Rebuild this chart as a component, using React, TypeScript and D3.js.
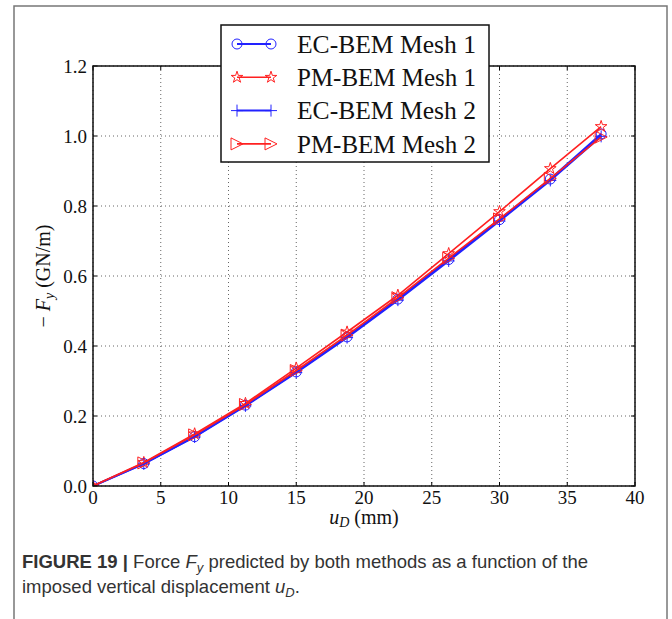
import React from "react";
import * as d3 from "d3";

// imposed displacement u_D (mm)
const uD = [0, 3.75, 7.5, 11.25, 15, 18.75, 22.5, 26.25, 30, 33.75, 37.5];
// -F_y (GN/m)
const ecMesh1 = [0, 0.064, 0.141, 0.231, 0.326, 0.426, 0.534, 0.647, 0.761, 0.877, 1.006];
const pmMesh1 = [0, 0.067, 0.149, 0.236, 0.337, 0.44, 0.545, 0.664, 0.784, 0.907, 1.027];
const ecMesh2 = [0, 0.063, 0.14, 0.229, 0.324, 0.424, 0.531, 0.643, 0.757, 0.873, 0.999];
const pmMesh2 = [0, 0.066, 0.146, 0.233, 0.33, 0.431, 0.538, 0.651, 0.763, 0.879, 0.997];

const seriesNames = ["EC-BEM Mesh 1", "PM-BEM Mesh 1", "EC-BEM Mesh 2", "PM-BEM Mesh 2"];
const seriesValues = [ecMesh1, pmMesh1, ecMesh2, pmMesh2];
const seriesColors = ["#2222ff", "#ff2020", "#2222ff", "#ff2020"];
const seriesMarkers = ["circle", "star", "plus", "triright"];

const xTicks = [0, 5, 10, 15, 20, 25, 30, 35, 40];
const yTicks = [0, 0.2, 0.4, 0.6, 0.8, 1.0, 1.2];

const width = 672;
const height = 619;
const margin = { left: 93, top: 66, right: 37, bottom: 133 };
const serif = "'Liberation Serif', 'Times New Roman', serif";
const sans = "'Liberation Sans', Arial, sans-serif";

function Marker({ type, x, y, color }: { type: string; x: number; y: number; color: string }) {
  if (type === "circle") {
    return <circle cx={x} cy={y} r={5} fill="none" stroke={color} strokeWidth={1} />;
  }
  if (type === "star") {
    const p = d3.symbol().type(d3.symbolStar).size(42)();
    return <path d={p || ""} transform={`translate(${x},${y})`} fill="none" stroke={color} strokeWidth={1} />;
  }
  if (type === "plus") {
    const s = 6;
    return (
      <path
        d={`M${x - s},${y}H${x + s}M${x},${y - s}V${y + s}`}
        stroke={color}
        strokeWidth={1}
        fill="none"
      />
    );
  }
  const s = 6;
  return (
    <path
      d={`M${x + s},${y}L${x - s},${y - s}L${x - s},${y + s}Z`}
      fill="none"
      stroke={color}
      strokeWidth={1}
    />
  );
}

export default function App() {
  const plotW = width - margin.left - margin.right;
  const plotH = height - margin.top - margin.bottom;

  const xScale = d3.scaleLinear().domain([0, 40]).range([0, plotW]);
  const yScale = d3.scaleLinear().domain([0, 1.2]).range([plotH, 0]);

  const line = d3
    .line<number>()
    .x((_, i) => xScale(uD[i]))
    .y(d => yScale(d));

  const legendX = 221 - margin.left;
  const legendY = 25 - margin.top;
  const legendW = 268;
  const legendH = 137;

  return (
    <svg
      width={width}
      height={height}
      style={{ position: "absolute", left: 0, top: 0, background: "#fff" }}
    >
      <rect x={14} y={6} width={653} height={700} fill="none" stroke="#777" strokeWidth={1.5} />
      <defs>
        <clipPath id="plot-clip">
          <rect x={0} y={0} width={plotW} height={plotH} />
        </clipPath>
      </defs>
      <g transform={`translate(${margin.left},${margin.top})`}>
        {/* grid */}
        {xTicks.map(t => (
          <line
            key={"gx" + t}
            x1={xScale(t)}
            x2={xScale(t)}
            y1={0}
            y2={plotH}
            stroke="#666"
            strokeWidth={1}
            strokeDasharray="1 3"
          />
        ))}
        {yTicks.map(t => (
          <line
            key={"gy" + t}
            x1={0}
            x2={plotW}
            y1={yScale(t)}
            y2={yScale(t)}
            stroke="#666"
            strokeWidth={1}
            strokeDasharray="1 3"
          />
        ))}

        {/* series */}
        <g clipPath="url(#plot-clip)">
          {seriesValues.map((vals, si) => (
            <g key={seriesNames[si]}>
              <path
                d={line(vals) || ""}
                fill="none"
                stroke={seriesColors[si]}
                strokeWidth={si % 2 === 0 ? 2 : 1.6}
              />
              {vals.map((v, i) => (
                <Marker
                  key={i}
                  type={seriesMarkers[si]}
                  x={xScale(uD[i])}
                  y={yScale(v)}
                  color={seriesColors[si]}
                />
              ))}
            </g>
          ))}
        </g>

        {/* ticks */}
        {xTicks.map(t => (
          <g key={"tx" + t}>
            <line x1={xScale(t)} x2={xScale(t)} y1={plotH} y2={plotH - 4} stroke="#000" />
            <line x1={xScale(t)} x2={xScale(t)} y1={0} y2={4} stroke="#000" />
            <text
              x={xScale(t)}
              y={plotH + 18}
              textAnchor="middle"
              fontFamily={serif}
              fontSize={19}
              fill="#111"
            >
              {t}
            </text>
          </g>
        ))}
        {yTicks.map(t => (
          <g key={"ty" + t}>
            <line x1={0} x2={4} y1={yScale(t)} y2={yScale(t)} stroke="#000" />
            <line x1={plotW} x2={plotW - 4} y1={yScale(t)} y2={yScale(t)} stroke="#000" />
            <text
              x={-6}
              y={yScale(t)}
              dy="0.35em"
              textAnchor="end"
              fontFamily={serif}
              fontSize={19}
              fill="#111"
            >
              {d3.format(".1f")(t)}
            </text>
          </g>
        ))}

        <rect x={0} y={0} width={plotW} height={plotH} fill="none" stroke="#111" strokeWidth={1.5} />

        {/* axis labels */}
        <text x={plotW / 2} y={plotH + 38} textAnchor="middle" fontFamily={serif} fontSize={20} fill="#111">
          <tspan fontStyle="italic">u</tspan>
          <tspan fontStyle="italic" fontSize={14} dy={3}>D</tspan>
          <tspan dy={-3}> (mm)</tspan>
        </text>
        <text
          transform={`translate(${43 - margin.left},${plotH / 2}) rotate(-90)`}
          textAnchor="middle"
          dy="0.35em"
          fontFamily={serif}
          fontSize={20}
          fill="#111"
        >
          <tspan>− </tspan>
          <tspan fontStyle="italic">F</tspan>
          <tspan fontStyle="italic" fontSize={14} dy={4}>y</tspan>
          <tspan dy={-4}> (GN/m)</tspan>
        </text>

        {/* legend */}
        <g transform={`translate(${legendX},${legendY})`}>
          <rect x={0} y={0} width={legendW} height={legendH} fill="#fff" stroke="#111" strokeWidth={1.5} />
          {seriesNames.map((name, i) => {
            const ly = 19 + i * 33.3;
            return (
              <g key={name}>
                <line x1={16} x2={50} y1={ly} y2={ly} stroke={seriesColors[i]} strokeWidth={i % 2 === 0 ? 2 : 1.6} />
                <Marker type={seriesMarkers[i]} x={16} y={ly} color={seriesColors[i]} />
                <Marker type={seriesMarkers[i]} x={50} y={ly} color={seriesColors[i]} />
                <text
                  x={76}
                  y={ly}
                  dy="0.35em"
                  fontFamily={serif}
                  fontSize={25}
                  textLength={179}
                  lengthAdjust="spacingAndGlyphs"
                  fill="#111"
                >
                  {name}
                </text>
              </g>
            );
          })}
        </g>
      </g>

      {/* caption */}
      <text x={22} y={568} fontFamily={sans} fontSize={18.5} fill="#333">
        <tspan fontWeight="bold">FIGURE 19</tspan>
        <tspan fontWeight="bold"> | </tspan>
        <tspan>Force </tspan>
        <tspan fontStyle="italic">F</tspan>
        <tspan fontStyle="italic" fontSize={13} dy={4}>y</tspan>
        <tspan dy={-4}> predicted by both methods as a function of the</tspan>
      </text>
      <text x={22} y={593} fontFamily={sans} fontSize={18.5} fill="#333">
        <tspan>imposed vertical displacement </tspan>
        <tspan fontStyle="italic">u</tspan>
        <tspan fontStyle="italic" fontSize={13} dy={4}>D</tspan>
        <tspan dy={-4}>.</tspan>
      </text>
    </svg>
  );
}
